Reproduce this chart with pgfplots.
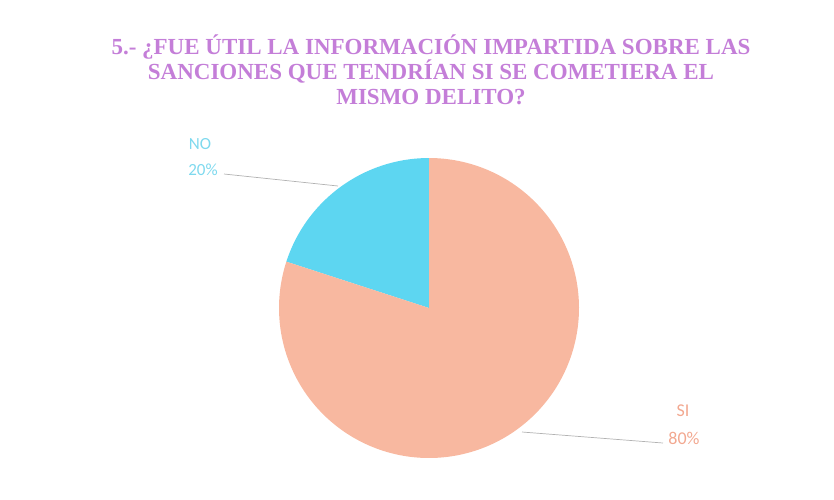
\documentclass[border=0pt]{standalone}
\usepackage{pgfplots}
\usepackage{pgfplotstable}
\pgfplotsset{compat=1.18}
\usepackage{fontspec}
\setmainfont{Liberation Serif}
\newfontfamily\calibri{Carlito}
\definecolor{titlec}{HTML}{C47ED8}
\definecolor{noc}{HTML}{5DD6F1}
\definecolor{sic}{HTML}{F8B8A0}
\definecolor{nolab}{HTML}{7ED9EE}
\definecolor{silab}{HTML}{F2A890}
\pgfplotstableread{
label value
NO 20
SI 80
}\piedata
\pgfplotstablegetelem{0}{value}\of\piedata \let\vNO\pgfplotsretval
\pgfplotstablegetelem{1}{value}\of\piedata \let\vSI\pgfplotsretval
\pgfmathsetmacro{\aA}{90}
\pgfmathsetmacro{\aB}{90+3.6*\vNO}
\pgfmathsetmacro{\aC}{\aB+3.6*\vSI}
\begin{document}
\begin{tikzpicture}
\begin{axis}[
  scale only axis, width=834pt, height=499pt,
  xmin=0, xmax=834, ymin=0, ymax=499, y dir=reverse,
  hide axis, clip=false]
\addplot[draw=none] coordinates {(0,0) (834,499)};
\addplot[fill=noc, draw=none, domain=\aA:\aB, samples=60, variable=\t]
  ({429+150*cos(\t)}, {308-150*sin(\t)}) -- (axis cs:429,308) -- cycle;
\addplot[fill=sic, draw=none, domain=\aB:\aC, samples=200, variable=\t]
  ({429+150*cos(\t)}, {308-150*sin(\t)}) -- (axis cs:429,308) -- cycle;
\addplot[gray!60, line width=0.7pt] coordinates {(224,174) (338,186)};
\addplot[gray!60, line width=0.7pt] coordinates {(522,432) (663,443)};
\node[font=\calibri\fontsize{17}{19}\selectfont, text=nolab] at (axis cs:200,144) {NO};
\node[font=\calibri\fontsize{17}{19}\selectfont, text=nolab] at (axis cs:203,170) {20\%};
\node[font=\calibri\fontsize{18}{20}\selectfont, text=silab] at (axis cs:683,411) {SI};
\node[font=\calibri\fontsize{18}{20}\selectfont, text=silab] at (axis cs:684,438) {80\%};
\node[font=\bfseries\fontsize{23}{25}\selectfont, text=titlec, align=center, anchor=north] at (axis cs:431,31)
  {5.- ¿FUE ÚTIL LA INFORMACIÓN IMPARTIDA SOBRE LAS\\SANCIONES QUE TENDRÍAN SI SE COMETIERA EL\\MISMO DELITO?};
\end{axis}
\end{tikzpicture}
\end{document}
